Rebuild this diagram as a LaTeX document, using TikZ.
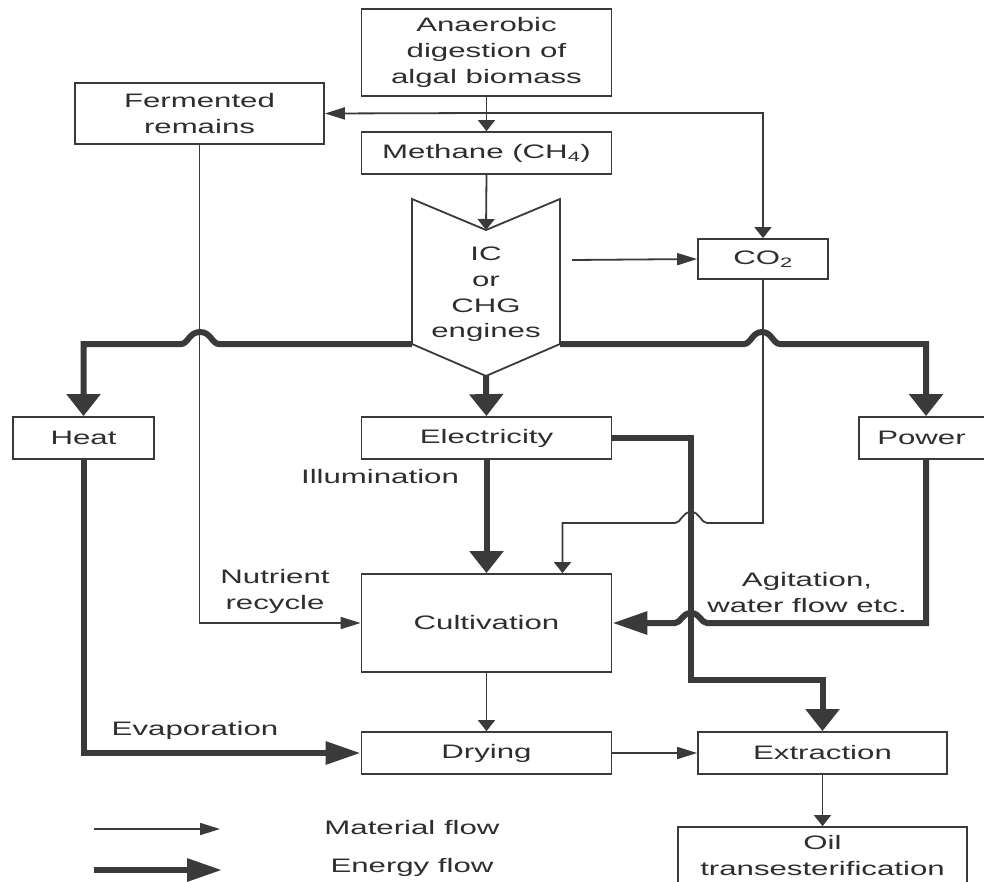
\documentclass[tikz,border=0pt]{standalone}
\usepackage{fontspec}
\setmainfont{Liberation Sans}[FakeStretch=1.6]
\usetikzlibrary{arrows.meta}
\definecolor{ln}{HTML}{3A3A3A}
\definecolor{tx}{HTML}{2E2E2E}
\begin{document}
\begin{tikzpicture}[x=1pt,y=-1pt,
  box/.style={draw=ln, line width=1.8pt, rectangle, inner sep=0pt, text=tx, align=center, fill=white,
    font=\fontsize{19.5}{26}\selectfont},
  lbl/.style={text=tx, align=center, inner sep=0pt, font=\fontsize{19.5}{26}\selectfont},
  mat/.style={draw=ln, line width=1.8pt},
  en/.style={draw=ln, line width=6pt},
  mv/.style={-{Triangle[length=11pt,width=17pt]}},
  mh/.style={-{Triangle[length=20pt,width=12pt]}},
  ev/.style={-{Triangle[length=22pt,width=33pt]}},
  eh/.style={-{Triangle[length=35pt,width=22pt]}}]
\clip (0,0) rectangle (984,881);
\fill[white] (0,0) rectangle (984,881);

% boxes
\node[box, minimum width=250pt, minimum height=87pt] (anaer) at (486.5,52.5) {Anaerobic\\digestion of\\algal biomass};
\node[box, minimum width=249pt, minimum height=61pt] (ferm) at (199.5,113.5) {Fermented\\remains};
\node[box, minimum width=250pt, minimum height=42pt] (meth) at (486.5,153) {Methane (CH\textsubscript{4})};
\node[box, minimum width=130pt, minimum height=40pt] (co2) at (763,259) {CO\textsubscript{2}};
\node[box, minimum width=141pt, minimum height=42pt] (heat) at (83.5,438) {Heat};
\node[box, minimum width=250pt, minimum height=42pt] (elec) at (486.5,438) {Electricity};
\node[box, minimum width=134pt, minimum height=42pt, text width=134pt, align=center] (power) at (926,438) {Power\hspace*{9pt}};
\node[box, minimum width=250pt, minimum height=98pt] (cult) at (486.5,623) {Cultivation};
\node[box, minimum width=250pt, minimum height=42pt] (dry) at (486.5,753) {Drying};
\node[box, minimum width=249pt, minimum height=42pt] (ext) at (822.5,753) {Extraction};
\node[box, minimum width=289pt, minimum height=58pt] (oil) at (822.5,856) {Oil\\transesterification};

% engine shape
\coordinate (engN) at (486,230);
\coordinate (engS) at (486,376);
\coordinate (engW) at (412,344);
\coordinate (engE) at (560,344);
\coordinate (engR) at (572,260);
\draw[draw=ln, line width=1.8pt, fill=white] (412,199) -- (engN) -- (560,199) -- (engE) -- (engS) -- (engW) -- cycle;
\node[lbl, font=\fontsize{19.5}{25.7}\selectfont] (eng) at (486,294.5) {IC\\or\\CHG\\engines};

% labels
\node[lbl] (illum) at (380,477) {Illumination};
\node[lbl] (nutr) at (275,591) {Nutrient\\recycle};
\node[lbl] (agit) at (807,593) {Agitation,\\water flow etc.};
\node[lbl] (evap) at (195,730) {Evaporation};
\node[lbl] (matl) at (412,828) {Material flow};
\node[lbl] (enl) at (412,867) {Energy flow};

% material connectors
\coordinate (split) at (486.5,113);
\draw[mat,mv] (anaer.south) -- (meth.north);
\draw[mat,mh] (split) -- (ferm.east);
\draw[mat,mv] (split) -| (co2.north);
\draw[mat,mv] (meth.south) -- (engN);
\draw[mat,mh] (engR) -- (co2.west);
\draw[mat,mh] (ferm.south) |- (cult.west);
\draw[mat,mv] (co2.south) -- (763,523) -- (707,523)
   .. controls (701,523) and (700,512) .. (691,512)
   .. controls (682,512) and (681,523) .. (675,523)
   -- ([xshift=76pt]cult.north |- 0,523) -- ([xshift=76pt]cult.north);
\draw[mat,mv] (cult.south) -- (dry.north);
\draw[mat,mh] (dry.east) -- (ext.west);
\draw[mat,mv] (ext.south) -- (oil.north);

% energy connectors
\draw[en,ev] (engS) -- (elec.north);
\draw[en,ev] (engW) -- (219,344)
   .. controls (212,344) and (211,332) .. (200,332)
   .. controls (189,332) and (188,344) .. (181,344)
   -- (83.5,344) -- (heat.north);
\draw[en,ev] (engE) -- (744,344)
   .. controls (751,344) and (752,332) .. (762,332)
   .. controls (772,332) and (773,344) .. (780,344)
   -- (926,344) -- (power.north);
\draw[en,ev] (elec.south) -- (cult.north);
\draw[en,ev] (elec.east) -- (691,438) -- (691,680) -- (822.5,680) -- (ext.north);
\draw[en,eh] (power.south) -- (926,623) -- (707,623)
   .. controls (701,623) and (700,613) .. (691,613)
   .. controls (682,613) and (681,623) .. (675,623)
   -- (cult.east);
\draw[en,eh] (heat.south) |- (dry.west);

% legend
\coordinate (m1) at (94,829);
\coordinate (m2) at (220,829);
\coordinate (e1) at (94,870);
\coordinate (e2) at (222,870);
\draw[mat,mh] (m1) -- (m2);
\draw[en,eh] (e1) -- (e2);
\end{tikzpicture}
\end{document}
